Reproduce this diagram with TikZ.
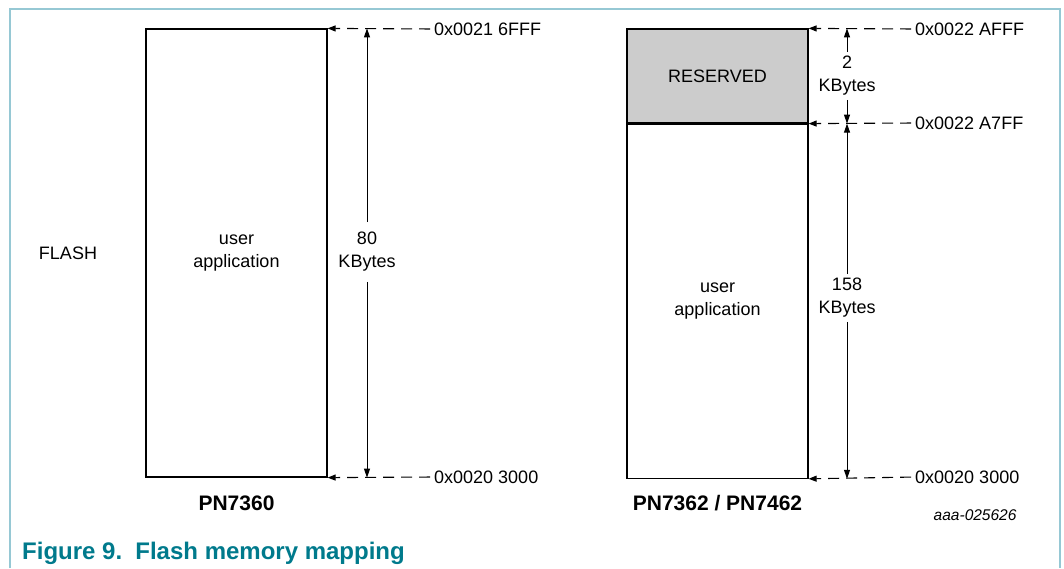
\documentclass[tikz,border=0pt]{standalone}
\usepackage{fontspec}
\setmainfont{Liberation Sans}
\usetikzlibrary{arrows.meta}
\definecolor{framecol}{RGB}{150,200,212}
\definecolor{capcol}{RGB}{0,122,140}
\definecolor{resvgray}{RGB}{204,204,204}

\begin{document}
\begin{tikzpicture}[x=1pt,y=-1pt,
  every node/.style={font=\fontsize{18}{23}\selectfont},
  membox/.style={draw, line width=1.2pt, minimum width=181pt, align=center, inner sep=0pt},
  addr/.style={anchor=west, inner sep=0pt},
  dimtxt/.style={align=center, inner sep=4pt},
  pin/.style={dash pattern=on 11pt off 7pt, line width=1.1pt, -{Triangle[length=8pt,width=6pt]}},
  dimline/.style={line width=1pt, -{Triangle[length=9pt,width=6pt]}}]
\useasboundingbox (0,0) rectangle (1064,568);
\draw[framecol, line width=1.5pt] (10,568) -- (10,9) -- (1060,9) -- (1060,568);

\node (flash) at (68,253) {FLASH};
\node[membox, minimum height=448pt] (userA) at (236.5,253) {user\\application};
\node[font=\fontsize{21}{25}\selectfont\bfseries] (nameA) at (236.5,503) {PN7360};

\node[membox, minimum height=94pt, fill=resvgray] (resv) at (717.5,76) {RESERVED};
\node[membox, minimum height=354pt, anchor=north] (userB) at (resv.south) {user\\application};
\node[font=\fontsize{21}{25}\selectfont\bfseries] (nameB) at (717.5,503) {PN7362 / PN7462};

\node[addr] (a6fff) at (434,29) {0x0021 6FFF};
\node[addr] (a3000) at (434,477) {0x0020 3000};
\node[addr] (aafff) at (915,29) {0x0022 AFFF};
\node[addr] (aa7ff) at (915,123) {0x0022 A7FF};
\node[addr] (b3000) at (915,477) {0x0020 3000};

\node[dimtxt, inner ysep=10pt] (dimA) at (367,252) {80\\KBytes};
\node[dimtxt] (dimB) at (847,76) {2\\KBytes};
\node[dimtxt] (dimC) at (847,298) {158\\KBytes};

\foreach \lbl/\mem/\corner in {a6fff/userA/north east, a3000/userA/south east, aafff/resv/north east, aa7ff/resv/south east, b3000/userB/south east}
	\draw[pin, shorten <=4pt] (\lbl.west) -- (\mem.\corner);

\foreach \dim/\mem in {dimA/userA, dimB/resv, dimC/userB}{
	\draw[dimline] (\dim.north) -- (\dim.north |- \mem.north);
	\draw[dimline] (\dim.south) -- (\dim.south |- \mem.south);
}

\node[font=\fontsize{15.5}{18}\selectfont\itshape, anchor=east] (code) at (1020,515) {aaa-025626};
\node[anchor=base west, inner sep=0pt, text=capcol, font=\fontsize{24}{28}\selectfont\bfseries] (caption) at (22,559) {Figure 9.\hspace{0.55em}Flash memory mapping};
\end{tikzpicture}
\end{document}
